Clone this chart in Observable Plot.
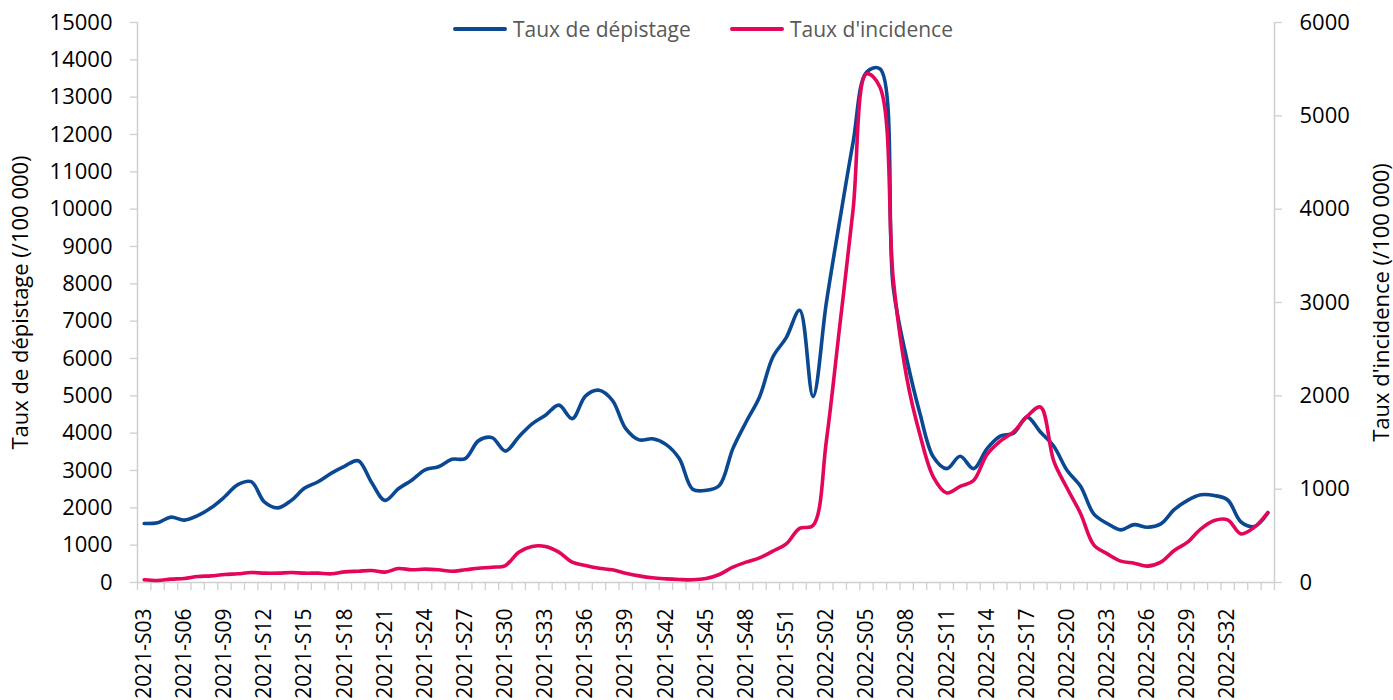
<!DOCTYPE html>
<html><head><meta charset="utf-8">
<script src="https://cdn.jsdelivr.net/npm/d3@7"></script>
<script src="https://cdn.jsdelivr.net/npm/@observablehq/plot@0.6"></script>
<style>
html,body{margin:0;padding:0;overflow:hidden;background:#fff;}
#wrap{position:relative;width:1393px;height:700px;font-family:"Open Sans",sans-serif;}
.leg{position:absolute;top:15px;display:flex;align-items:center;font-size:21px;color:#595959;white-space:nowrap;}
.sw{display:inline-block;width:54px;height:4px;margin-right:6px;border-radius:2px;}
</style></head><body>
<div id="wrap"></div>
<script>
const weeks = ["2021-S03","2021-S04","2021-S05","2021-S06","2021-S07","2021-S08","2021-S09","2021-S10","2021-S11","2021-S12",
"2021-S13","2021-S14","2021-S15","2021-S16","2021-S17","2021-S18","2021-S19","2021-S20","2021-S21","2021-S22",
"2021-S23","2021-S24","2021-S25","2021-S26","2021-S27","2021-S28","2021-S29","2021-S30","2021-S31","2021-S32",
"2021-S33","2021-S34","2021-S35","2021-S36","2021-S37","2021-S38","2021-S39","2021-S40","2021-S41","2021-S42",
"2021-S43","2021-S44","2021-S45","2021-S46","2021-S47","2021-S48","2021-S49","2021-S50","2021-S51","2021-S52",
"2022-S01","2022-S02","2022-S03","2022-S04","2022-S05","2022-S06","2022-S07","2022-S08","2022-S09","2022-S10",
"2022-S11","2022-S12","2022-S13","2022-S14","2022-S15","2022-S16","2022-S17","2022-S18","2022-S19","2022-S20",
"2022-S21","2022-S22","2022-S23","2022-S24","2022-S25","2022-S26","2022-S27","2022-S28","2022-S29","2022-S30",
"2022-S31","2022-S32","2022-S33","2022-S34","2022-S35"];

const depistage = [1580,1600,1750,1670,1790,2000,2290,2620,2700,2150,
2000,2200,2530,2700,2930,3120,3260,2680,2200,2510,
2740,3020,3100,3300,3320,3800,3880,3520,3900,4250,
4480,4750,4390,5000,5150,4880,4120,3820,3850,3700,
3320,2500,2470,2600,3580,4300,4970,6040,6560,7290,
4980,7500,9700,11800,13670,13760,7900,6000,4520,3360,
3050,3380,3050,3580,3920,4000,4430,4030,3650,3000,
2580,1830,1580,1410,1550,1480,1570,1950,2200,2350,
2330,2210,1620,1500,1860];

const incidence = [30,22,36,43,64,71,86,93,107,100,
100,107,100,100,93,114,121,129,111,150,
136,143,136,121,136,153,164,182,325,386,
386,325,218,182,153,136,100,71,50,39,
32,29,43,86,164,218,264,336,414,580,
610,1520,2750,4000,5450,5310,3250,2200,1580,1130,
960,1030,1093,1370,1515,1615,1780,1880,1300,1010,
740,400,307,229,207,175,218,343,432,575,
664,671,521,593,750];

const tickLabels = ["2021-S03","2021-S06","2021-S09","2021-S12","2021-S15","2021-S18","2021-S21","2021-S24","2021-S27","2021-S30",
"2021-S33","2021-S36","2021-S39","2021-S42","2021-S45","2021-S48","2021-S51","2022-S02","2022-S05","2022-S08",
"2022-S11","2022-S14","2022-S17","2022-S20","2022-S23","2022-S26","2022-S29","2022-S32"];

const leftTicks = [0,1000,2000,3000,4000,5000,6000,7000,8000,9000,10000,11000,12000,13000,14000,15000];
const rightTicks = [0,1000,2000,3000,4000,5000,6000];
const leftMax = 15000, rightMax = 6000;
const ratio = leftMax / rightMax;

const seriesNames = ["Taux de dépistage", "Taux d'incidence"];
const colors = ["#0b4892", "#e3065b"];

const rows = weeks.map((w, i) => ({week: w, dep: depistage[i], inc: incidence[i]}));

const W = 1393, H = 700, mL = 137, mR = 119, mT = 22, mB = 118;
const step = (W - mL - mR) / weeks.length;
const axisGray = "#cfcfcf";

const chart = Plot.plot({
  width: W, height: H,
  marginLeft: mL, marginRight: mR, marginTop: mT, marginBottom: mB,
  style: {fontFamily: "'Open Sans', sans-serif", fontSize: "21px", color: "#000", background: "transparent", overflow: "visible"},
  x: {type: "point", domain: weeks, padding: 0.5},
  y: {domain: [0, leftMax]},
  marks: [
    Plot.ruleY([0], {stroke: axisGray, strokeWidth: 1.5}),
    Plot.ruleX([weeks[0]], {dx: -step / 2, stroke: axisGray, strokeWidth: 1.5}),
    Plot.ruleX([weeks[weeks.length - 1]], {dx: step / 2, stroke: axisGray, strokeWidth: 1.5}),
    Plot.axisX(weeks, {tickSize: 8, tickFormat: () => "", dx: -step / 2, stroke: axisGray, strokeWidth: 1.3, label: null}),
    Plot.axisX([weeks[weeks.length - 1]], {tickSize: 8, tickFormat: () => "", dx: step / 2, stroke: axisGray, strokeWidth: 1.3, label: null}),
    Plot.axisX(tickLabels, {tickSize: 0, tickPadding: 26, tickRotate: -90, fontSize: 21, fill: "#000", label: null}),
    Plot.axisY(leftTicks, {anchor: "left", tickSize: 7, tickPadding: 18, stroke: axisGray, strokeWidth: 1.3,
      fontSize: 22, fill: "#000", tickFormat: d => String(d),
      label: "Taux de dépistage (/100 000)", labelAnchor: "center", labelArrow: "none", labelOffset: 125}),
    Plot.axisY(rightTicks.map(d => d * ratio), {anchor: "right", tickSize: 7, tickPadding: 18, stroke: axisGray, strokeWidth: 1.3,
      fontSize: 22, fill: "#000", tickFormat: d => String(Math.round(d / ratio)),
      label: "Taux d'incidence (/100 000)", labelAnchor: "center", labelArrow: "none", labelOffset: 114}),
    Plot.line(rows, {x: "week", y: "dep", stroke: colors[0], strokeWidth: 3.6, curve: "catmull-rom", strokeLinecap: "round", strokeLinejoin: "round"}),
    Plot.line(rows, {x: "week", y: d => d.inc * ratio, stroke: colors[1], strokeWidth: 3.6, curve: "catmull-rom", strokeLinecap: "round", strokeLinejoin: "round"})
  ]
});

const wrap = document.getElementById("wrap");
wrap.appendChild(chart);
const legLefts = [453, 730];
seriesNames.forEach((name, i) => {
  const item = document.createElement("div");
  item.className = "leg";
  item.style.left = legLefts[i] + "px";
  item.innerHTML = `<span class="sw" style="background:${colors[i]}"></span><span>${name}</span>`;
  wrap.appendChild(item);
});
</script>
</body></html>
